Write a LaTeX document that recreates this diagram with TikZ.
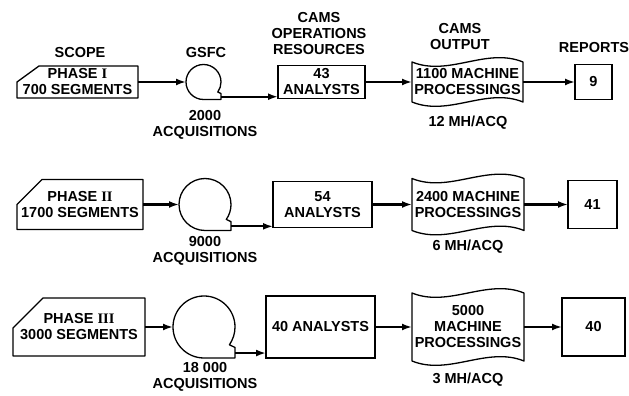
\documentclass[tikz,border=0pt]{standalone}
\usepackage{fontspec}
\setmainfont{Liberation Sans}
\newfontfamily\numfont{Liberation Serif}
\usepackage{tikz}
\usetikzlibrary{positioning, arrows.meta, calc}
\newcommand{\phaseoutline}[3]{%
  \draw[outline] ($(#1.north west)+(#2,0)$) -- (#1.north east) -- (#1.south east)
    -- (#1.south west) -- ($(#1.north west)+(0,-#3)$) -- cycle;}
\newcommand{\tapereel}[1]{%
  \draw[outline] let \p1=(#1.center), \p2=(#1.east), \n1={\x2-\x1} in
    (#1.south) arc[start angle=-90, end angle=-395, radius=\n1]
    -- ({\x1+\n1},{\y1-0.66*\n1}) -- ({\x1+\n1},{\y1-\n1}) -- cycle;
  \coordinate (#1o) at ($(#1.south -| #1.east)!0.16!(#1.east)$);}
\newcommand{\docoutline}[1]{%
  \draw[outline] (#1.north west) .. controls +(37,-15) and +(-37,15) .. (#1.north east)
    -- (#1.south east) .. controls +(-37,15) and +(37,-15) .. (#1.south west) -- cycle;}

\begin{document}
\begin{tikzpicture}[x=1pt, y=1pt,
    every node/.style={font=\fontsize{14.5}{16}\selectfont\bfseries, inner sep=0pt, outer sep=0pt},
    lbl/.style={align=center},
    phase/.style={rectangle, align=center},
    reel/.style={circle},
    staff/.style={rectangle, draw, line width=1.3pt, align=center},
    doc/.style={rectangle, align=center},
    report/.style={rectangle, draw, line width=1.3pt},
    outline/.style={line width=1.3pt, line join=round},
    flow/.style={-{Latex[length=10pt,width=7pt]}, line width=2.2pt}
]
    \useasboundingbox (0,0) rectangle (629,396);

    % --- column headings ---
    \node[lbl] (scope) at (80,343) {SCOPE};
    \node[lbl] (gsfc) at (206,343) {GSFC};
    \node[lbl] (resources) at (319,362.5) {CAMS\\OPERATIONS\\RESOURCES};
    \node[lbl] (output) at (460,359.5) {CAMS\\OUTPUT};
    \node[lbl] (reports) at (594,348) {REPORTS};

    % --- Phase I ---
    \node[phase, minimum width=121, minimum height=32] (p1) at (77.5,314) {PHASE {\numfont I}\\700 SEGMENTS};
    \phaseoutline{p1}{22}{16}
    \node[reel, minimum size=35] (t1) at (203.5,314) {};
    \tapereel{t1}
    \node[lbl] (acq1) at (205,271) {2000\\ACQUISITIONS};
    \node[staff, minimum width=87, minimum height=33] (a1) at (321.5,314) {43\\ANALYSTS};
    \node[doc, minimum width=111, minimum height=40] (d1) at (467.5,314) {1100 MACHINE\\PROCESSINGS};
    \docoutline{d1}
    \node[lbl] (mh1) at (468,273) {12 MH/ACQ};
    \node[report, minimum width=37, minimum height=35] (r1) at (593.5,314) {9};

    \draw[flow] (p1) -- (t1);
    \draw[flow] (t1o) -- (t1o -| a1.west);
    \draw[flow] (a1) -- (d1);
    \draw[flow] (d1) -- (r1);

    % --- Phase II ---
    \node[phase, minimum width=126, minimum height=50] (p2) at (80,191.5) {PHASE {\numfont II}\\1700 SEGMENTS};
    \phaseoutline{p2}{25}{25}
    \node[reel, minimum size=52] (t2) at (205,191.5) {};
    \tapereel{t2}
    \node[lbl] (acq2) at (205,145.5) {9000\\ACQUISITIONS};
    \node[staff, minimum width=99, minimum height=46] (a2) at (322.5,191.5) {54\\ANALYSTS};
    \node[doc, minimum width=112, minimum height=52] (d2) at (468,191.5) {2400 MACHINE\\PROCESSINGS};
    \docoutline{d2}
    \node[lbl] (mh2) at (468,149) {6 MH/ACQ};
    \node[report, minimum width=49, minimum height=48] (r2) at (592.5,191.5) {41};

    \draw[flow] (p2) -- (t2);
    \draw[flow] (t2o) -- (t2o -| a2.west);
    \draw[flow] (a2) -- (d2);
    \draw[flow] (d2) -- (r2);

    % --- Phase III ---
    \node[phase, minimum width=132, minimum height=58] (p3) at (79,69) {PHASE {\numfont III}\\3000 SEGMENTS};
    \phaseoutline{p3}{30}{30}
    \node[reel, minimum size=62] (t3) at (204,69) {};
    \tapereel{t3}
    \node[lbl] (acq3) at (205,19.5) {18 000\\ACQUISITIONS};
    \node[staff, minimum width=109, minimum height=62] (a3) at (320.5,69) {40 ANALYSTS};
    \node[doc, minimum width=112, minimum height=68] (d3) at (468,69) {5000\\MACHINE\\PROCESSINGS};
    \docoutline{d3}
    \node[lbl] (mh3) at (468,16) {3 MH/ACQ};
    \node[report, minimum width=63, minimum height=58] (r3) at (593.5,69) {40};

    \draw[flow] (p3) -- (t3);
    \draw[flow] (t3o) -- (t3o -| a3.west);
    \draw[flow] (a3) -- (d3);
    \draw[flow] (d3) -- (r3);

\end{tikzpicture}
\end{document}
